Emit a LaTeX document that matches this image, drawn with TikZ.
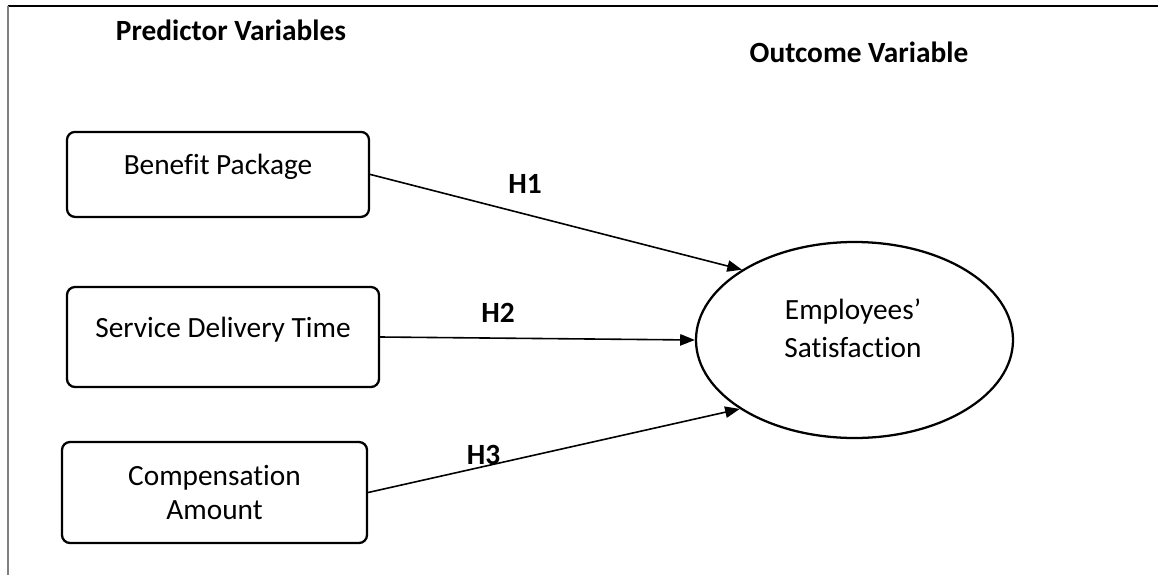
\documentclass[tikz,border=0pt]{standalone}
\usepackage{fontspec}
\setmainfont{Carlito}[Ligatures=NoCommon]
\usetikzlibrary{arrows.meta,shapes.geometric}
\tikzset{
	predbox/.style={
		draw, line width=1.7pt, rounded corners=6pt,
		font=\fontsize{22}{26}\selectfont, align=center, inner sep=0pt},
	header/.style={
		font=\fontsize{22}{26}\selectfont\bfseries, anchor=base},
	hypo/.style={
		font=\fontsize{22}{26}\selectfont\bfseries, inner sep=0pt},
	outcome/.style={
		draw, ellipse, line width=1.7pt, inner sep=0pt},
	Path/.style={
		draw, line width=1.2pt, -{Triangle[length=11pt,width=8.5pt]}}
}
\begin{document}
\begin{tikzpicture}[x=0.75pt,y=0.75pt,yscale=-1,xscale=1]
\useasboundingbox (0,0) rectangle (1158,575);

% frame
\draw [line width=1.2pt] (7.5,6) -- (1170,6);
\draw [color={rgb, 255:red, 128; green, 128; blue, 128 }, line width=1.5pt] (7.5,6) -- (7.5,590);

\node[header] (predictor) at (231,40) {Predictor Variables};
\node[header] (outcomehead) at (859,62) {Outcome Variable};

\node[predbox, minimum width=226.5pt, minimum height=63.75pt, text height=12pt, text depth=12pt] (benefit) at (218,174.4) {Benefit Package};
\node[predbox, minimum width=234pt, minimum height=75pt, text height=12pt, text depth=12pt] (service) at (223,337) {Service Delivery Time};
\node[predbox, minimum width=228.75pt, minimum height=75.75pt] (compens) at (214.5,492.5) {Compensation\\Amount};

\node[outcome, minimum width=237.75pt, minimum height=147pt] (satisf) at (854.5,340) {};
\node[align=center, font=\fontsize{22}{29}\selectfont, inner sep=0pt] (satisftext) at (853,328.4) {Employees’\\Satisfaction};

\draw[Path] (benefit.east) -- (satisf.148.5);
\draw[Path] (service.east) -- (satisf.west);
\draw[Path] (compens.east) -- (satisf.211.5);

\node[hypo] (h1) at (525,184) {H1};
\node[hypo] (h2) at (498,312.5) {H2};
\node[hypo] (h3) at (483.6,455) {H3};

\end{tikzpicture}
\end{document}
